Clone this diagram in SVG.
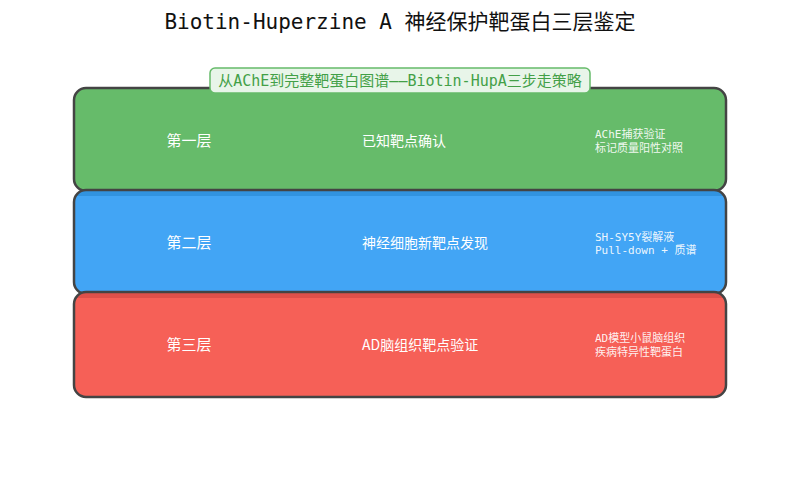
<svg xmlns="http://www.w3.org/2000/svg" width="800" height="496" viewBox="0 0 800 496">
<style>
.t{font-family:"DejaVu Sans Mono","Noto Sans CJK SC",monospace;}
.layer{stroke:#444;stroke-width:2.5;}
.lab{fill:#fff;font-size:14px;font-family:"Noto Sans CJK SC",sans-serif;}
.big{font-size:15px;}
.side{fill:#fff;fill-opacity:0.92;font-size:11px;font-family:"DejaVu Sans Mono","Noto Sans CJK SC",monospace;}
</style>
<defs>
<clipPath id="c2"><rect x="74" y="190" width="652" height="104" rx="12"/></clipPath>
<clipPath id="c3"><rect x="74" y="292" width="652" height="105" rx="12"/></clipPath>
</defs>
<rect width="800" height="496" fill="#fff"/>
<text class="t" x="400" y="29" text-anchor="middle" font-size="21" fill="#111">Biotin-Huperzine A 神经保护靶蛋白三层鉴定</text>
<g id="layer1">
<rect class="layer" x="74" y="88" width="652" height="103" rx="12" fill="#66BB6A"/>
<text class="lab big" x="189" y="146" text-anchor="middle">第一层</text>
<text class="lab" x="362" y="146">已知靶点确认</text>
<text class="side" x="595" y="138">AChE捕获验证</text>
<text class="side" x="595" y="152">标记质量阳性对照</text>
</g>
<g id="label">
<rect x="210" y="68" width="380" height="25" rx="5" fill="#E8F5E9" stroke="#66BB6A" stroke-width="1.5"/>
<text class="t" x="400" y="86" text-anchor="middle" font-size="15" fill="#43A047">从AChE到完整靶蛋白图谱——Biotin-HupA三步走策略</text>
</g>
<g id="layer2">
<rect x="74" y="190" width="652" height="104" rx="12" fill="#42A5F5"/>
<rect x="74" y="190" width="652" height="6" fill="#3193E0" clip-path="url(#c2)"/>
<rect class="layer" x="74" y="190" width="652" height="104" rx="12" fill="none"/>
<text class="lab big" x="189" y="248" text-anchor="middle">第二层</text>
<text class="lab" x="362" y="248">神经细胞新靶点发现</text>
<text class="side" x="595" y="241">SH-SY5Y裂解液</text>
<text class="side" x="595" y="254">Pull-down + 质谱</text>
</g>
<g id="layer3">
<rect x="74" y="292" width="652" height="105" rx="12" fill="#F66057"/>
<rect x="74" y="292" width="652" height="6" fill="#DF504A" clip-path="url(#c3)"/>
<rect class="layer" x="74" y="292" width="652" height="105" rx="12" fill="none"/>
<text class="lab big" x="189" y="350" text-anchor="middle">第三层</text>
<text class="lab" x="362" y="350">AD脑组织靶点验证</text>
<text class="side" x="595" y="342">AD模型小鼠脑组织</text>
<text class="side" x="595" y="356">疾病特异性靶蛋白</text>
</g>
<g id="connectors"></g>
</svg>
